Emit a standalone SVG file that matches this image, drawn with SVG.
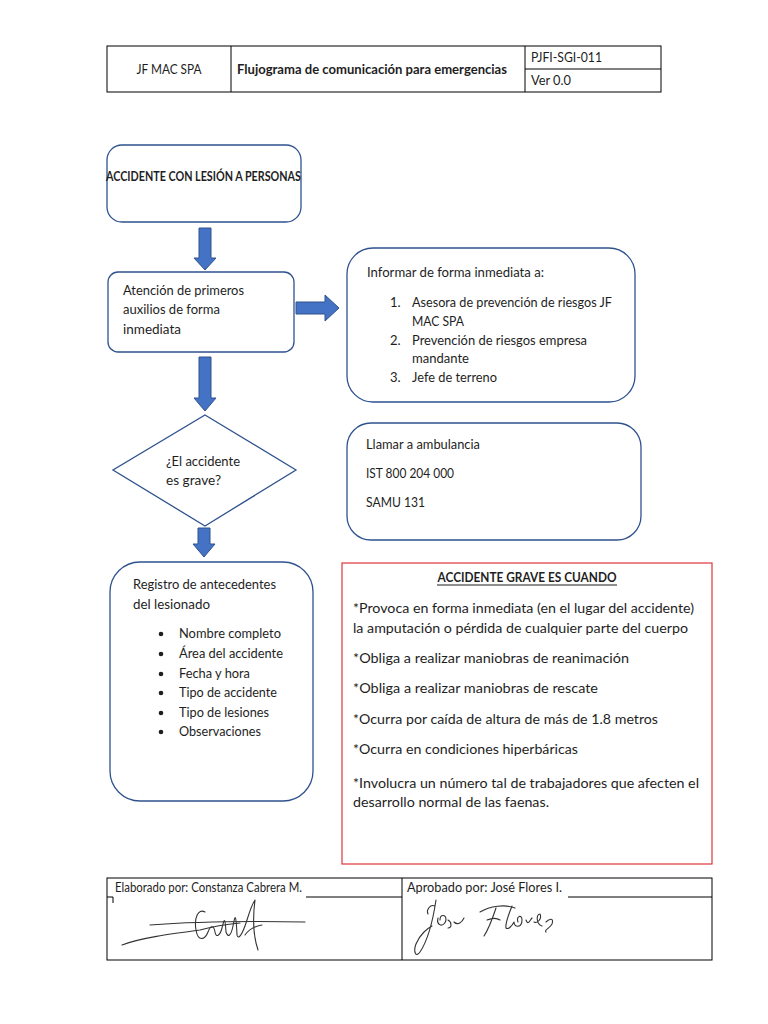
<svg xmlns="http://www.w3.org/2000/svg" width="768" height="1024" viewBox="0 0 768 1024">
<style>
  text { font-family: Lato, "Liberation Sans", sans-serif; fill: #1e1e1e; font-size: 13px; }
  .b { font-weight: bold; }
  .cell { fill: none; stroke: #000; stroke-width: 1; }
  .node { fill: #fff; stroke: #2f528f; stroke-width: 1.3; }
  .arrow { fill: #4472c4; stroke: #2f528f; stroke-width: 1; }
  .red { fill: #fff; stroke: #e0353a; stroke-width: 1.2; }
  .sig { fill: none; stroke: #333; stroke-width: 1.1; stroke-linecap: round; stroke-linejoin: round; }
</style>
<rect width="768" height="1024" fill="#fff"/>

<g id="header">
  <rect class="cell" x="107" y="46" width="554" height="46"/>
  <line class="cell" x1="231" y1="46" x2="231" y2="92"/>
  <line class="cell" x1="525" y1="46" x2="525" y2="92"/>
  <line class="cell" x1="525" y1="69" x2="661" y2="69"/>
  <text x="169" y="74" text-anchor="middle" textLength="65" lengthAdjust="spacingAndGlyphs">JF MAC SPA</text>
  <text class="b" x="237" y="74" textLength="270" lengthAdjust="spacingAndGlyphs">Flujograma de comunicación para emergencias</text>
  <text x="531" y="62" textLength="71" lengthAdjust="spacingAndGlyphs">PJFI-SGI-011</text>
  <text x="531" y="85" textLength="40" lengthAdjust="spacingAndGlyphs">Ver 0.0</text>
</g>

<g id="connectors">
  <polygon class="arrow" points="199,228 211,228 211,258 216,258 205,270 194,258 199,258"/>
  <polygon class="arrow" points="296,302 325,302 325,295 339,308 325,321 325,314 296,314"/>
  <polygon class="arrow" points="199,357 211,357 211,398 216,398 205,411 194,398 199,398"/>
  <polygon class="arrow" points="198,528 210,528 210,544 215,544 204,557 193,544 198,544"/>
</g>

<g id="n-accidente">
  <rect class="node" x="107" y="145" width="194" height="77" rx="15"/>
  <text class="b" x="106" y="181" font-size="10" textLength="195" lengthAdjust="spacingAndGlyphs">ACCIDENTE CON LESIÓN A PERSONAS</text>
</g>

<g id="n-atencion">
  <rect class="node" x="108" y="272" width="186" height="80" rx="10"/>
  <text x="123" y="295" textLength="121" lengthAdjust="spacingAndGlyphs">Atención de primeros</text>
  <text x="123" y="314" textLength="97" lengthAdjust="spacingAndGlyphs">auxilios de forma</text>
  <text x="123" y="334" textLength="58" lengthAdjust="spacingAndGlyphs">inmediata</text>
</g>

<g id="n-informar">
  <rect class="node" x="347" y="248" width="288" height="154" rx="26"/>
  <text x="367" y="277" textLength="177" lengthAdjust="spacingAndGlyphs">Informar de forma inmediata a:</text>
  <text x="390" y="307">1.</text>
  <text x="412" y="307" textLength="200" lengthAdjust="spacingAndGlyphs">Asesora de prevención de riesgos JF</text>
  <text x="412" y="326" textLength="52" lengthAdjust="spacingAndGlyphs">MAC SPA</text>
  <text x="390" y="345">2.</text>
  <text x="412" y="345" textLength="175" lengthAdjust="spacingAndGlyphs">Prevención de riesgos empresa</text>
  <text x="412" y="363" textLength="57" lengthAdjust="spacingAndGlyphs">mandante</text>
  <text x="390" y="382">3.</text>
  <text x="412" y="382" textLength="85" lengthAdjust="spacingAndGlyphs">Jefe de terreno</text>
</g>

<g id="n-grave">
  <polygon class="node" points="205,415 296,470 205,526 113,470"/>
  <text x="166" y="466" textLength="74" lengthAdjust="spacingAndGlyphs">¿El accidente</text>
  <text x="166" y="485" textLength="55" lengthAdjust="spacingAndGlyphs">es grave?</text>
</g>

<g id="n-ambulancia">
  <rect class="node" x="347" y="423" width="294" height="117" rx="24"/>
  <text x="366" y="449" textLength="114" lengthAdjust="spacingAndGlyphs">Llamar a ambulancia</text>
  <text x="366" y="478" textLength="88" lengthAdjust="spacingAndGlyphs">IST 800 204 000</text>
  <text x="366" y="507" textLength="59" lengthAdjust="spacingAndGlyphs">SAMU 131</text>
</g>

<g id="n-registro">
  <rect class="node" x="110" y="562" width="203" height="239" rx="30"/>
  <text x="133" y="589" textLength="143" lengthAdjust="spacingAndGlyphs">Registro de antecedentes</text>
  <text x="133" y="609" textLength="77" lengthAdjust="spacingAndGlyphs">del lesionado</text>
  <g fill="#1e1e1e">
    <circle cx="161" cy="634" r="2.3"/>
    <circle cx="161" cy="654" r="2.3"/>
    <circle cx="161" cy="674" r="2.3"/>
    <circle cx="161" cy="693" r="2.3"/>
    <circle cx="161" cy="713" r="2.3"/>
    <circle cx="161" cy="732" r="2.3"/>
  </g>
  <text x="179" y="638" textLength="102" lengthAdjust="spacingAndGlyphs">Nombre completo</text>
  <text x="179" y="658" textLength="104" lengthAdjust="spacingAndGlyphs">Área del accidente</text>
  <text x="179" y="678" textLength="71" lengthAdjust="spacingAndGlyphs">Fecha y hora</text>
  <text x="179" y="697" textLength="98" lengthAdjust="spacingAndGlyphs">Tipo de accidente</text>
  <text x="179" y="717" textLength="90" lengthAdjust="spacingAndGlyphs">Tipo de lesiones</text>
  <text x="179" y="736" textLength="82" lengthAdjust="spacingAndGlyphs">Observaciones</text>
</g>

<g id="n-criterios">
  <rect class="red" x="342" y="563" width="370" height="301"/>
  <text class="b" x="527" y="582" text-anchor="middle" textLength="179" lengthAdjust="spacingAndGlyphs">ACCIDENTE GRAVE ES CUANDO</text>
  <line x1="437" y1="585" x2="617" y2="585" stroke="#1e1e1e" stroke-width="1"/>
  <g font-size="14">
    <text x="353" y="613" textLength="341" lengthAdjust="spacingAndGlyphs">*Provoca en forma inmediata (en el lugar del accidente)</text>
    <text x="353" y="633" textLength="335" lengthAdjust="spacingAndGlyphs">la amputación o pérdida de cualquier parte del cuerpo</text>
    <text x="353" y="663" textLength="276" lengthAdjust="spacingAndGlyphs">*Obliga a realizar maniobras de reanimación</text>
    <text x="353" y="693" textLength="245" lengthAdjust="spacingAndGlyphs">*Obliga a realizar maniobras de rescate</text>
    <text x="353" y="724" textLength="305" lengthAdjust="spacingAndGlyphs">*Ocurra por caída de altura de más de 1.8 metros</text>
    <text x="353" y="754" textLength="225" lengthAdjust="spacingAndGlyphs">*Ocurra en condiciones hiperbáricas</text>
    <text x="353" y="788" textLength="346" lengthAdjust="spacingAndGlyphs">*Involucra un número tal de trabajadores que afecten el</text>
    <text x="353" y="807" textLength="196" lengthAdjust="spacingAndGlyphs">desarrollo normal de las faenas.</text>
  </g>
</g>

<g id="footer">
  <rect class="cell" x="107" y="878" width="605" height="82"/>
  <line class="cell" x1="402" y1="878" x2="402" y2="960"/>
  <line class="cell" x1="107" y1="897" x2="113" y2="897"/>
  <line class="cell" x1="113" y1="897" x2="113" y2="903"/>
  <line class="cell" x1="306" y1="897" x2="402" y2="897"/>
  <line class="cell" x1="568" y1="897" x2="712" y2="897"/>
  <text x="115" y="892" textLength="187" lengthAdjust="spacingAndGlyphs">Elaborado por: Constanza Cabrera M.</text>
  <text x="407" y="892" textLength="155" lengthAdjust="spacingAndGlyphs">Aprobado por: José Flores I.</text>
  <path class="sig" d="M150,925 C190,922 250,921 305,922"/>
  <path class="sig" d="M122,945 C140,938 170,934 200,930 C215,926 230,924 240,923"/>
  <path class="sig" d="M205,912 C198,908 194,918 196,930 C198,942 205,940 208,932 C211,924 214,926 215,932 C216,938 220,936 222,928 C224,920 225,915 226,932 C228,938 231,936 233,926 C235,915 236,912 237,935 C238,940 242,936 247,920 C250,910 253,903 255,900 C253,915 252,932 258,950 M245,935 C250,928 255,926 262,925"/>
  <path class="sig" d="M435,906 C430,904 426,910 428,914 M436,900 C433,920 428,940 420,952 C416,958 413,952 416,944 C420,934 428,928 432,926 M438,918 C436,926 444,928 446,920 C446,914 440,914 440,920 M448,920 C452,922 452,928 448,928 M454,922 C458,926 462,922 464,918"/>
  <path class="sig" d="M480,912 C490,906 505,904 515,908 M496,908 C492,920 488,930 484,936 M487,920 C492,918 497,918 500,920 M512,906 C508,916 505,924 506,928 C508,930 512,926 514,922 C514,928 522,928 522,920 C522,914 516,916 518,922 M526,920 C528,926 530,920 532,918 M534,922 C538,924 542,918 540,914 C536,914 536,924 542,926 M546,922 C550,918 554,918 552,924 C550,928 544,930 546,932"/>
</g>
</svg>
